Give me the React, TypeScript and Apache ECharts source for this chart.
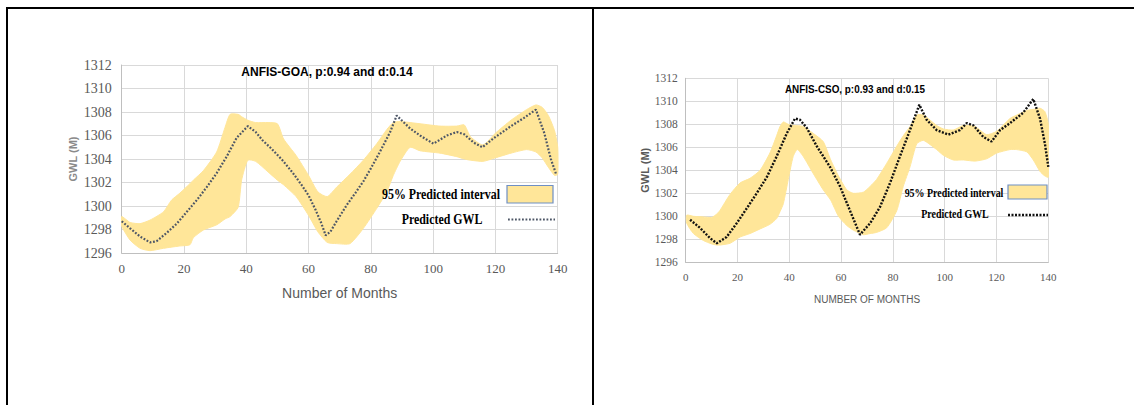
import React, { useEffect, useRef } from "react";
import * as echarts from "echarts";

// ---- Chart 1: ANFIS-GOA ----
const goaX = [0, 2.7, 5.9, 9.1, 11.2, 14.4, 17.7, 20.9, 24.1, 27.3, 30.5, 33.7, 36.9, 40.5, 43, 45.2, 48, 51.6, 55, 58, 60, 62.2, 64, 65.5, 67, 69, 72.3, 75, 77.6, 80, 82.9, 86.2, 88.3, 92.6, 95.8, 100.1, 104.4, 107.6, 110, 113, 115.8, 119.6, 125, 129.2, 133, 135.7, 137.8, 139.5];
const goaY = [1298.7, 1298.1, 1297.4, 1296.9, 1297.0, 1297.7, 1298.5, 1299.5, 1300.5, 1301.6, 1302.8, 1304.2, 1305.8, 1306.8, 1306.3, 1305.6, 1304.9, 1303.9, 1302.8, 1301.7, 1300.9, 1299.7, 1298.6, 1297.5, 1297.8, 1298.7, 1300.1, 1301.1, 1302.1, 1303.2, 1304.6, 1306.3, 1307.7, 1306.6, 1306.0, 1305.3, 1306.0, 1306.3, 1306.1, 1305.4, 1305.0, 1305.8, 1306.8, 1307.5, 1308.2, 1306.2, 1304.0, 1302.7];
const goaBandX = [0, 2.7, 5.9, 9.1, 13.4, 16, 18.7, 21.9, 23, 26.2, 30.5, 33.2, 34.8, 37.4, 38.5, 40.5, 43, 47, 50, 52, 56, 60, 63, 66, 69, 73.3, 77.6, 81.9, 85.1, 87.2, 89.4, 92.6, 95.8, 102.2, 107.6, 110, 112, 116, 120, 125, 130, 133, 135, 137, 139, 140];
const goaLower = [1298.3, 1297.1, 1296.4, 1296.2, 1296.4, 1296.5, 1296.6, 1296.7, 1297.3, 1297.95, 1298.4, 1298.9, 1299.1, 1299.9, 1302.2, 1303.9, 1303.8, 1302.9, 1302.2, 1301.8, 1300.8, 1299.2, 1297.8, 1296.9, 1296.8, 1296.8, 1298.1, 1299.8, 1301.2, 1302.6, 1303.8, 1305.0, 1304.7, 1304.5, 1304.2, 1304.0, 1303.9, 1303.8, 1304.1, 1304.5, 1304.8, 1304.6, 1304.1, 1303.3, 1302.6, 1302.7];
const goaUpper = [1299.1, 1298.6, 1298.5, 1298.8, 1299.5, 1300.5, 1301.1, 1301.9, 1302.2, 1303.0, 1304.6, 1306.7, 1307.8, 1307.8, 1307.6, 1307.3, 1307.1, 1307.1, 1307.0, 1305.7, 1304.3, 1302.6, 1301.2, 1300.8, 1301.6, 1302.7, 1303.9, 1305.3, 1306.5, 1307.1, 1307.2, 1307.1, 1307.0, 1306.8, 1306.8, 1306.9, 1305.9, 1305.2, 1306.2, 1307.3, 1308.2, 1308.6, 1308.4, 1307.7, 1306.4, 1305.0];

// ---- Chart 2: ANFIS-CSO ----
const csoX = [1.7, 5.5, 9.4, 12, 15.8, 19.7, 23.6, 27.4, 31.3, 35.1, 39, 42.2, 44.1, 46.7, 50.6, 55.7, 59.6, 63.4, 67.3, 71.2, 75, 78.9, 82.7, 86.6, 90.2, 93, 96.9, 101.4, 105.9, 108.5, 111.1, 114.9, 118.1, 121.4, 125.2, 130.3, 134.2, 136.8, 138.7, 140];
const csoY = [1299.7, 1299.0, 1298.1, 1297.65, 1298.2, 1299.4, 1300.7, 1302.0, 1303.4, 1305.2, 1307.2, 1308.5, 1308.4, 1307.7, 1306.1, 1304.3, 1302.6, 1300.5, 1298.4, 1299.4, 1300.8, 1302.9, 1305.2, 1307.5, 1309.7, 1308.4, 1307.5, 1307.1, 1307.5, 1308.1, 1307.9, 1306.9, 1306.5, 1307.5, 1308.1, 1309.0, 1310.2, 1308.5, 1306.3, 1304.3];
const csoBandX = [0.4, 3, 6.8, 10, 12, 13.2, 17.1, 21, 24.8, 28.7, 32.5, 35.1, 36.4, 37.7, 39.6, 41.5, 43.1, 45.4, 49.3, 53.1, 56, 59, 62.2, 64.7, 68.6, 71.2, 73.7, 77.6, 81.5, 84, 86.6, 89.2, 91.8, 96.9, 99.5, 103.3, 107.2, 111.7, 116.2, 120.1, 125.2, 127.8, 131.7, 134.2, 136.8, 138.7, 140];
const csoLower = [1299.4, 1298.5, 1297.9, 1297.6, 1297.5, 1297.5, 1297.65, 1298.2, 1298.5, 1298.9, 1299.3, 1299.8, 1300.4, 1301.1, 1303.2, 1305.2, 1305.8, 1305.2, 1303.7, 1302.3, 1301.4, 1300.0, 1299.2, 1298.8, 1298.4, 1298.5, 1298.6, 1299.0, 1300.5, 1302.6, 1304.3, 1306.3, 1306.6, 1305.8, 1305.3, 1304.9, 1304.9, 1304.8, 1305.0, 1305.5, 1305.8, 1305.8, 1305.6, 1304.9, 1303.9, 1303.5, 1303.4];
const csoUpper = [1300.1, 1300.0, 1299.95, 1299.9, 1300.2, 1300.5, 1301.9, 1302.9, 1303.3, 1304.0, 1305.5, 1307.0, 1307.8, 1308.2, 1308.0, 1307.9, 1307.9, 1307.8, 1307.2, 1306.5, 1304.9, 1303.5, 1302.3, 1302.0, 1302.1, 1302.6, 1303.2, 1304.6, 1306.1, 1307.0, 1307.8, 1308.8, 1308.8, 1307.9, 1307.6, 1307.5, 1307.9, 1307.8, 1307.1, 1307.4, 1308.5, 1308.8, 1309.2, 1309.3, 1309.4, 1309.1, 1308.0];

const xMin = 0;
const xMax = 140;
const xStep = 20;
const yMin = 1296;
const yMax = 1312;
const yStep = 2;

const BAND = "#FFE699";

function bandSeries(idx: number, X: number[], L: number[], U: number[], name: string) {
  return {
    type: "custom",
    name,
    xAxisIndex: idx,
    yAxisIndex: idx,
    z: 1,
    clip: true,
    data: X.map((x, i) => [x, L[i], U[i]]),
    encode: { x: 0, y: [1, 2] },
    renderItem: (params: any, api: any) => {
      if (params.dataIndex !== 0) return null;
      const up = X.map((x, i) => api.coord([x, U[i]]));
      const lo = X.map((x, i) => api.coord([x, L[i]])).reverse();
      return {
        type: "polygon",
        shape: { points: up.concat(lo), smooth: 0.2 },
        style: { fill: BAND, stroke: BAND, lineWidth: 1 },
      };
    },
  };
}

function axesFor(idx: number, big: boolean) {
  const labelSize = big ? 14 : 11.5;
  const xLabelSize = big ? 13 : 11;
  return {
    x: {
      gridIndex: idx,
      type: "value",
      min: xMin,
      max: xMax,
      interval: xStep,
      axisLine: { show: true, lineStyle: { color: "#bfbfbf", width: 1 } },
      axisTick: { show: false },
      splitLine: { show: true, lineStyle: { color: "#d9d9d9", width: 1 } },
      axisLabel: {
        fontFamily: "Liberation Serif",
        fontSize: xLabelSize,
        color: "#595959",
        margin: 9,
        formatter: (v: number) => String(v),
      },
      name: big ? "Number of Months" : "NUMBER OF MONTHS",
      nameLocation: "middle",
      nameGap: big ? 33 : 32,
      nameTextStyle: {
        fontFamily: "Liberation Sans",
        fontSize: big ? 14 : 10,
        color: "#595959",
      },
    },
    y: {
      gridIndex: idx,
      type: "value",
      min: yMin,
      max: yMax,
      interval: yStep,
      axisLine: { show: true, lineStyle: { color: "#bfbfbf", width: 1 } },
      axisTick: { show: false },
      splitLine: { show: true, lineStyle: { color: "#d9d9d9", width: 1 } },
      axisLabel: {
        fontFamily: "Liberation Serif",
        fontSize: labelSize,
        color: "#595959",
        margin: big ? 10 : 8,
        formatter: (v: number) => String(v),
      },
      name: "GWL (M)",
      nameLocation: "middle",
      nameRotate: 90,
      nameGap: big ? 43 : 33,
      nameTextStyle: {
        fontFamily: "Liberation Sans",
        fontSize: 11,
        fontWeight: "bold",
        color: big ? "#8a8a8a" : "#595959",
      },
    },
  };
}

function txt(text: string, x: number, y: number, font: string, scaleX = 1) {
  return {
    type: "text",
    x,
    y,
    scaleX,
    z: 10,
    style: {
      text,
      font,
      fill: "#000",
      textAlign: "center",
      textVerticalAlign: "middle",
      verticalAlign: "middle",
    },
  };
}

export default function App() {
  const ref = useRef<HTMLDivElement>(null);

  useEffect(() => {
    if (!ref.current) return;
    const chart = echarts.init(ref.current, undefined, { renderer: "svg" });
    const a0 = axesFor(0, true);
    const a1 = axesFor(1, false);
    const option: any = {
      animation: false,
      backgroundColor: "#ffffff",
      grid: [
        { left: 121.7, top: 65, width: 436, height: 188 },
        { left: 685.7, top: 78.3, width: 362.6, height: 184 },
      ],
      xAxis: [a0.x, a1.x],
      yAxis: [a0.y, a1.y],
      series: [
        bandSeries(0, goaBandX, goaLower, goaUpper, "95% Predicted interval"),
        {
          type: "line",
          name: "Predicted GWL",
          xAxisIndex: 0,
          yAxisIndex: 0,
          z: 3,
          symbol: "none",
          data: goaX.map((x, i) => [x, goaY[i]]),
          lineStyle: { color: "#4d5666", width: 2.2, type: [1.8, 1.7] },
        },
        bandSeries(1, csoBandX, csoLower, csoUpper, "95% Predicted interval "),
        {
          type: "line",
          name: "Predicted GWL ",
          xAxisIndex: 1,
          yAxisIndex: 1,
          z: 3,
          symbol: "none",
          data: csoX.map((x, i) => [x, csoY[i]]),
          lineStyle: { color: "#111111", width: 2.4, type: [2, 1.5] },
        },
      ],
      graphic: [
        txt("ANFIS-GOA, p:0.94 and d:0.14", 327, 72, 'bold 12px "Liberation Sans"'),
        txt("ANFIS-CSO, p:0.93 and d:0.15", 855, 89, 'bold 11px "Liberation Sans"', 0.9),
        // legend chart 1
        txt("95% Predicted interval", 441, 194, 'bold 14px "Liberation Serif"', 0.85),
        {
          type: "rect",
          z: 10,
          shape: { x: 507, y: 185.5, width: 46, height: 17.5 },
          style: { fill: BAND, stroke: "#6f8fc4", lineWidth: 1.2 },
        },
        txt("Predicted GWL", 442, 219, 'bold 14px "Liberation Serif"', 0.85),
        {
          type: "line",
          z: 10,
          shape: { x1: 508, y1: 219.5, x2: 555, y2: 219.5 },
          style: { stroke: "#4d5666", lineWidth: 2.2, lineDash: [1.8, 1.7] },
        },
        // legend chart 2
        txt("95% Predicted interval", 954, 193, 'bold 12px "Liberation Serif"', 0.83),
        {
          type: "rect",
          z: 10,
          shape: { x: 1008, y: 185, width: 39, height: 14 },
          style: { fill: BAND, stroke: "#6f8fc4", lineWidth: 1.2 },
        },
        txt("Predicted GWL", 955, 214, 'bold 12px "Liberation Serif"', 0.83),
        {
          type: "line",
          z: 10,
          shape: { x1: 1008, y1: 215, x2: 1048, y2: 215 },
          style: { stroke: "#111111", lineWidth: 2.4, lineDash: [2, 1.5] },
        },
      ],
    };
    chart.setOption(option);
    return () => chart.dispose();
  }, []);

  const line = (s: React.CSSProperties) => (
    <div style={{ position: "absolute", background: "#000", zIndex: 5, ...s }} />
  );

  return (
    <div style={{ position: "absolute", left: 0, top: 0, width: 1134, height: 405, background: "#fff", overflow: "hidden" }}>
      <div ref={ref} style={{ position: "absolute", left: 0, top: 0, width: 1134, height: 405 }} />
      {line({ left: 6, top: 7, width: 1128, height: 2 })}
      {line({ left: 6, top: 7, width: 2, height: 398 })}
      {line({ left: 592, top: 7, width: 2, height: 398 })}
    </div>
  );
}
